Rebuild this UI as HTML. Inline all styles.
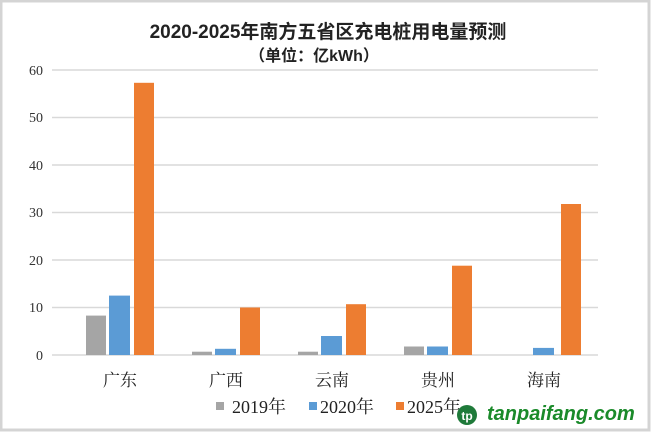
<!DOCTYPE html>
<html><head><meta charset="utf-8"><style>
body{margin:0;background:#fff;}
svg{display:block}
</style></head><body>
<svg width="656" height="434" viewBox="0 0 656 434" xmlns="http://www.w3.org/2000/svg" style="font-family:'Liberation Serif','Noto Serif CJK SC',serif">
<rect x="0" y="0" width="656" height="434" fill="#fff"/>
<rect x="1" y="1" width="648" height="429" fill="none" stroke="#d4d4d4" stroke-width="3"/>
<text x="328" y="38" text-anchor="middle" font-size="19" font-weight="bold" fill="#222" style="font-family:'Liberation Sans','Noto Sans CJK SC',sans-serif">2020-2025年南方五省区充电桩用电量预测</text>
<text x="314" y="61" text-anchor="middle" font-size="16" font-weight="bold" fill="#222" style="font-family:'Liberation Sans','Noto Sans CJK SC',sans-serif">（单位：亿kWh）</text>
<g stroke="#d9d9d9" stroke-width="1.5">
<line x1="52" y1="70" x2="598" y2="70"/><line x1="52" y1="117.5" x2="598" y2="117.5"/>
<line x1="52" y1="165" x2="598" y2="165"/><line x1="52" y1="212.5" x2="598" y2="212.5"/>
<line x1="52" y1="260" x2="598" y2="260"/><line x1="52" y1="307.5" x2="598" y2="307.5"/>
<line x1="52" y1="355" x2="598" y2="355"/>
</g>
<g font-size="14" fill="#333" text-anchor="end">
<text x="43" y="75">60</text><text x="43" y="122">50</text><text x="43" y="170">40</text>
<text x="43" y="217">30</text><text x="43" y="265">20</text><text x="43" y="312">10</text><text x="43" y="360">0</text>
</g>
<g>
<rect x="86" y="315.6" width="20" height="39.4" fill="#a5a5a5"/>
<rect x="109" y="295.6" width="21" height="59.4" fill="#5b9bd5"/>
<rect x="134" y="82.8" width="20" height="272.2" fill="#ed7d31"/>
<rect x="192" y="351.7" width="20" height="3.3" fill="#a5a5a5"/>
<rect x="215" y="348.8" width="21" height="6.2" fill="#5b9bd5"/>
<rect x="240" y="307.5" width="20" height="47.5" fill="#ed7d31"/>
<rect x="298" y="351.7" width="20" height="3.3" fill="#a5a5a5"/>
<rect x="321" y="336" width="21" height="19" fill="#5b9bd5"/>
<rect x="346" y="304.2" width="20" height="50.8" fill="#ed7d31"/>
<rect x="404" y="346.5" width="20" height="8.5" fill="#a5a5a5"/>
<rect x="427" y="346.5" width="21" height="8.5" fill="#5b9bd5"/>
<rect x="452" y="265.7" width="20" height="89.3" fill="#ed7d31"/>
<rect x="533" y="347.9" width="21" height="7.1" fill="#5b9bd5"/>
<rect x="561" y="204" width="20" height="151" fill="#ed7d31"/>
</g>
<g font-size="17" fill="#222" text-anchor="middle">
<text x="120" y="386">广东</text><text x="226" y="386">广西</text><text x="332" y="386">云南</text>
<text x="438" y="386">贵州</text><text x="544" y="386">海南</text>
</g>
<g font-size="18" fill="#222">
<rect x="216" y="402" width="8" height="8" fill="#a5a5a5"/><text x="232" y="413">2019年</text>
<rect x="309" y="402" width="8" height="8" fill="#5b9bd5"/><text x="320" y="413">2020年</text>
<rect x="396" y="402" width="8" height="8" fill="#ed7d31"/><text x="407" y="413">2025年</text>
</g>
<circle cx="467" cy="415" r="10" fill="#1f7a3a"/>
<text x="467" y="420" text-anchor="middle" font-size="12" font-weight="bold" fill="#fff" style="font-family:'Liberation Sans',sans-serif">tp</text>
<text x="487" y="420" font-size="20" font-weight="bold" font-style="italic" fill="#1a8a2a" style="font-family:'Liberation Sans',sans-serif">tanpaifang.com</text>
</svg>
</body></html>
